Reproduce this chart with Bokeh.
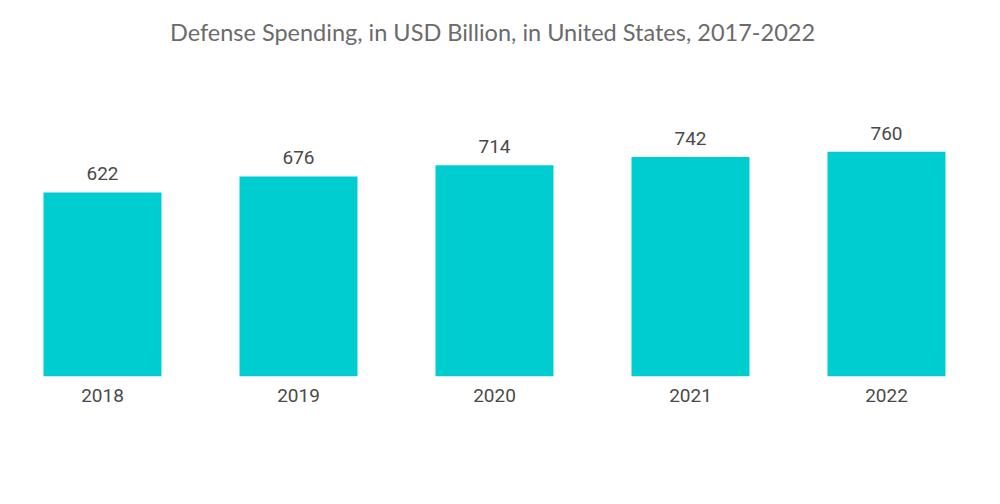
from bokeh.plotting import figure
from bokeh.models import ColumnDataSource, FixedTicker, Range1d, LabelSet, Title
from bokeh.core.properties import value
from bokeh.embed import file_html
from bokeh.resources import INLINE

years = ["2018", "2019", "2020", "2021", "2022"]
spending = [622, 676, 714, 742, 760]

xs = list(range(len(years)))
src = ColumnDataSource(dict(x=xs, top=spending, label=[str(v) for v in spending]))

W, H = 984, 488
p = figure(width=W, height=H, output_backend="svg", toolbar_location=None,
           x_range=Range1d(-0.5204, 4.5), y_range=Range1d(0, 1068),
           min_border_left=0, min_border_right=0, min_border_bottom=112, min_border_top=0)
p.title = Title(text="Defense Spending, in USD Billion, in United States, 2017-2022",
                align="center", text_font="Lato", text_font_size="23.5px",
                text_font_style="normal", text_color="#6b6b6b", offset=0, standoff=30)
p.vbar(x="x", top="top", bottom=0, width=0.602, source=src, color="#00CDD0", line_color=None)
p.add_layout(LabelSet(x="x", y="top", text="label", source=src, text_align="center",
                      text_baseline="bottom", y_offset=12, text_font=value("Roboto"),
                      text_font_size="19px", text_color="#4a4a4a"))
p.xaxis.ticker = FixedTicker(ticks=xs)
p.xaxis.major_label_overrides = {i: y for i, y in enumerate(years)}
p.xaxis.major_label_text_font = "Roboto"
p.xaxis.major_label_text_font_size = "19px"
p.xaxis.major_label_text_color = "#4a4a4a"
p.xaxis.major_tick_line_color = None
p.xaxis.minor_tick_line_color = None
p.xaxis.axis_line_color = None
p.xaxis.major_label_standoff = 6
p.yaxis.visible = False
p.xgrid.visible = False
p.ygrid.visible = False
p.outline_line_color = None

open("out.html", "w").write(file_html(p, INLINE))
